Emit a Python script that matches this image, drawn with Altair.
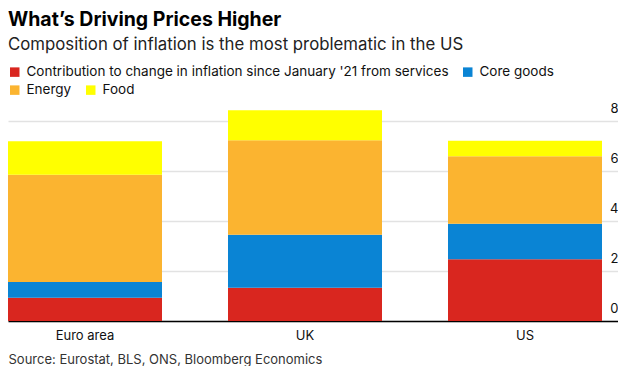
import altair as alt
import pandas as pd

regions = ["Euro area", "UK", "US"]
series = [
    "Contribution to change in inflation since January '21 from services",
    "Core goods",
    "Energy",
    "Food",
]
services = [0.93, 1.33, 2.47]
core_goods = [0.63, 2.12, 1.42]
energy = [4.29, 3.78, 2.70]
food = [1.34, 1.20, 0.62]
colors = ["#d9261f", "#0a84d4", "#fbb430", "#ffff00"]
y_ticks = [0, 2, 4, 6, 8]

FONT = "Inter"

rows = []
for i, r in enumerate(regions):
    base = 0.0
    for s, vals in zip(series, [services, core_goods, energy, food]):
        rows.append({"region": r, "series": s, "y0": base, "y1": base + vals[i]})
        base += vals[i]
df = pd.DataFrame(rows)

x_enc = alt.X(
    "region:N",
    sort=regions,
    scale=alt.Scale(paddingInner=0.3, paddingOuter=0.03636, align=0),
    axis=alt.Axis(
        title="Source: Eurostat, BLS, ONS, Bloomberg Economics",
        titleAnchor="start",
        titleAlign="left",
        titleBaseline="alphabetic",
        titleX=0,
        titleY=42,
        titleFont=FONT,
        titleFontSize=13,
        titleFontWeight="normal",
        titleColor="#333333",
        labelAngle=0,
        labelFont=FONT,
        labelFontSize=13,
        labelColor="#111111",
        labelPadding=8,
        ticks=False,
        domain=True,
        domainColor="#000000",
        domainWidth=1.5,
        grid=False,
    ),
)

y_enc = alt.Y(
    "y0:Q",
    scale=alt.Scale(domain=[0, 8.72], nice=False),
    axis=alt.Axis(
        orient="right",
        values=y_ticks,
        title=None,
        domain=False,
        ticks=False,
        grid=True,
        gridColor="#e2e2e2",
        gridWidth=1.5,
        labelAlign="right",
        labelBaseline="alphabetic",
        labelPadding=0,
        labelOffset=-9,
        labelFont=FONT,
        labelFontSize=13,
        labelColor="#111111",
    ),
)


def legend(y):
    return alt.Legend(
        orient="none",
        legendX=0,
        legendY=y,
        direction="horizontal",
        title=None,
        symbolType="square",
        symbolSize=90,
        symbolStrokeWidth=0,
        symbolOpacity=1,
        labelFont=FONT,
        labelFontSize=13.5,
        labelColor="#111111",
        labelOffset=5,
        labelLimit=0,
        columnPadding=12,
    )


layer_a = (
    alt.Chart(df[df["series"].isin(series[:2])])
    .mark_bar(opacity=1)
    .encode(
        x=x_enc,
        y=y_enc,
        y2="y1:Q",
        color=alt.Color(
            "series:N",
            scale=alt.Scale(domain=series[:2], range=colors[:2]),
            legend=legend(-38),
        ),
    )
)

layer_b = (
    alt.Chart(df[df["series"].isin(series[2:])])
    .mark_bar(opacity=1)
    .encode(
        x=x_enc,
        y=y_enc,
        y2="y1:Q",
        color=alt.Color(
            "series:N",
            scale=alt.Scale(domain=series[2:], range=colors[2:]),
            legend=legend(-20),
        ),
    )
)

chart = (
    alt.layer(layer_a, layer_b)
    .resolve_scale(color="independent")
    .properties(
        width=610,
        height=218,
        padding={"left": 0, "top": 1, "right": 0, "bottom": 0},
        title=alt.TitleParams(
            text="What’s Driving Prices Higher",
            subtitle="Composition of inflation is the most problematic in the US",
            anchor="start",
            font=FONT,
            fontSize=19.5,
            fontWeight="bold",
            color="#000000",
            subtitleFont=FONT,
            subtitleFontSize=16.8,
            subtitleColor="#222222",
            subtitlePadding=7,
            offset=10,
        ),
    )
    .configure_view(stroke=None)
)

chart.save("out.html", embed_options={"renderer": "svg", "actions": False})
